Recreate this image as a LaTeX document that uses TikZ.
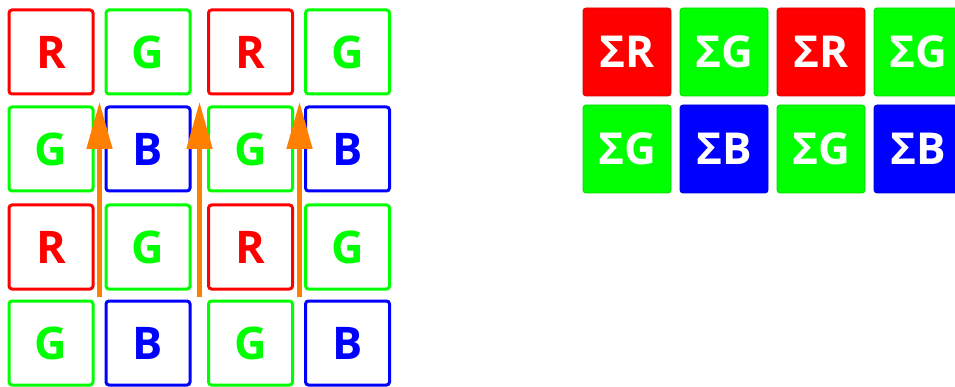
\documentclass[tikz,border=0pt]{standalone}
\usepackage{fontspec}
\setmainfont{Open Sans}
\usetikzlibrary{arrows.meta}
\definecolor{cR}{RGB}{255,0,0}
\definecolor{cG}{RGB}{0,255,0}
\definecolor{cB}{RGB}{0,0,255}
\definecolor{cO}{RGB}{255,127,0}
\tikzset{
  cell/.style={draw=#1, text=#1, line width=3pt, rounded corners=3pt, minimum size=84pt, inner sep=0pt, font=\fontsize{45}{45}\selectfont\bfseries},
  sumcell/.style={fill=#1, draw=#1!85!black, line width=0.8pt, text=white, rounded corners=3pt, minimum size=88pt, inner sep=0pt, font=\fontsize{44}{44}\selectfont\bfseries},
  flow/.style={draw=cO, line width=5pt, -{Triangle[width=25pt,length=47pt]}},
}
\begin{document}
\begin{tikzpicture}[x=1pt,y=-1pt]
\useasboundingbox (0,0) rectangle (955,387);
% left grid
\node[cell=cR] (a11) at (51,52) {R};
\node[cell=cG] (a12) at (148,52) {G};
\node[cell=cR] (a13) at (250.5,52) {R};
\node[cell=cG] (a14) at (347.5,52) {G};
\node[cell=cG] (a21) at (51,149) {G};
\node[cell=cB] (a22) at (148,149) {B};
\node[cell=cG] (a23) at (250.5,149) {G};
\node[cell=cB] (a24) at (347.5,149) {B};
\node[cell=cR] (a31) at (51,247) {R};
\node[cell=cG] (a32) at (148,247) {G};
\node[cell=cR] (a33) at (250.5,247) {R};
\node[cell=cG] (a34) at (347.5,247) {G};
\node[cell=cG] (a41) at (51,343) {G};
\node[cell=cB] (a42) at (148,343) {B};
\node[cell=cG] (a43) at (250.5,343) {G};
\node[cell=cB] (a44) at (347.5,343) {B};
% arrows
\coordinate (s1) at (99.5,297); \coordinate (e1) at (99.5,102);
\coordinate (s2) at (199.5,297); \coordinate (e2) at (199.5,102);
\coordinate (s3) at (299.5,297); \coordinate (e3) at (299.5,102);
\draw[flow] (s1) -- (e1);
\draw[flow] (s2) -- (e2);
\draw[flow] (s3) -- (e3);
% right grid
\node[sumcell=cR] (b11) at (627,52) {ΣR};
\node[sumcell=cG] (b12) at (724,52) {ΣG};
\node[sumcell=cR] (b13) at (821,52) {ΣR};
\node[sumcell=cG] (b14) at (918,52) {ΣG};
\node[sumcell=cG] (b21) at (627,149) {ΣG};
\node[sumcell=cB] (b22) at (724,149) {ΣB};
\node[sumcell=cG] (b23) at (821,149) {ΣG};
\node[sumcell=cB] (b24) at (918,149) {ΣB};
\end{tikzpicture}
\end{document}
